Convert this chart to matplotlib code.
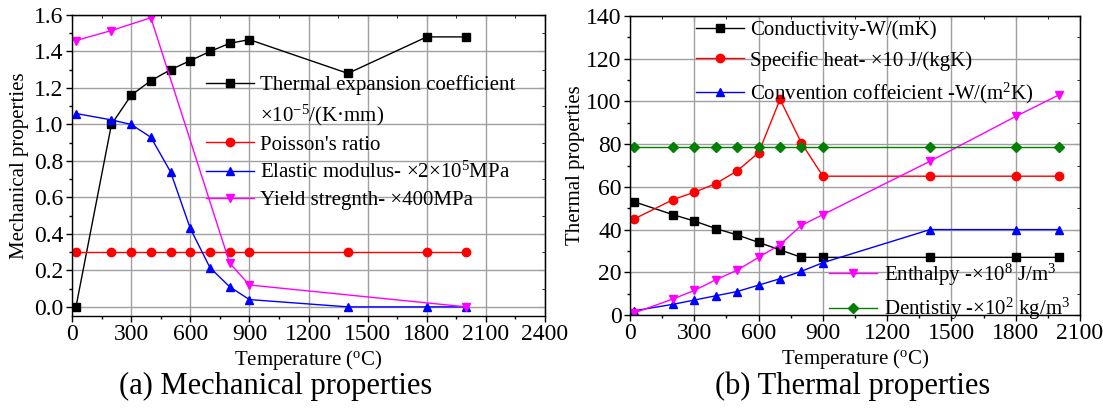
import matplotlib
matplotlib.use("Agg")
import matplotlib.pyplot as plt
from matplotlib.lines import Line2D
from matplotlib.ticker import MultipleLocator

plt.rcParams['font.family'] = ['Liberation Serif', 'DejaVu Serif']
plt.rcParams['mathtext.fontset'] = 'custom'
plt.rcParams['mathtext.rm'] = 'Liberation Serif'
plt.rcParams['mathtext.it'] = 'Liberation Serif:italic'
plt.rcParams['mathtext.bf'] = 'Liberation Serif:bold'

# temperatures (C)
temp = [20, 200, 300, 400, 500, 600, 700, 800, 900, 1400, 1800, 2000]

# (a) mechanical properties
thermal_exp = [0.0, 1.0, 1.16, 1.24, 1.30, 1.35, 1.40, 1.445, 1.465, 1.28, 1.48, 1.48]
poisson = [0.3] * 12
elastic = [1.06, 1.025, 1.0, 0.93, 0.74, 0.43, 0.215, 0.11, 0.04, 0.0, 0.0, 0.0]
yield_temp = [20, 200, 400, 800, 900, 2000]
yield_str = [1.46, 1.515, 1.585, 0.24, 0.12, 0.0]

# (b) thermal properties
conductivity = [53, 47, 44, 40.5, 37.5, 34, 30.5, 27, 27, 27, 27, 27]
specific_heat = [45, 54, 57.5, 61.5, 67.5, 76, 101, 80.5, 65, 65, 65, 65]
convection = [2, 5, 7, 9, 11, 14, 17, 20.5, 24.5, 40, 40, 40]
enthalpy = [1, 7.5, 11.5, 16.5, 21, 27, 33, 42, 47, 72, 93, 103]
density = [78.5] * 12

fig = plt.figure(figsize=(11.03, 4.09), dpi=100)
ax1 = fig.add_axes([0.0653, 0.2274, 0.4288, 0.7359])
ax2 = fig.add_axes([0.5712, 0.2298, 0.4080, 0.7310])

lw = 1.0
ms = 6
tick_fs = 17
lab_fs = 15
leg_fs = 15


def style(ax, xmax, xminor, ymajor, yminor):
    ax.set_xlim(0, xmax)
    ax.xaxis.set_major_locator(MultipleLocator(300))
    ax.xaxis.set_minor_locator(MultipleLocator(xminor))
    ax.yaxis.set_major_locator(MultipleLocator(ymajor))
    ax.yaxis.set_minor_locator(MultipleLocator(yminor))
    ax.grid(True, which='major', color='#a0a0a0', lw=1.0)
    ax.set_axisbelow(True)
    ax.tick_params(which='both', direction='out', labelsize=tick_fs, width=1,
                   colors='black', pad=2)
    ax.tick_params(which='major', length=4)
    ax.tick_params(which='minor', length=2.5)
    for s in ax.spines.values():
        s.set_linewidth(1.0)
    top = ax.secondary_xaxis('top')
    top.xaxis.set_major_locator(MultipleLocator(300))
    top.xaxis.set_minor_locator(MultipleLocator(xminor))
    top.tick_params(which='both', direction='in', labeltop=False)
    top.tick_params(which='major', length=4)
    top.tick_params(which='minor', length=2.5)
    right = ax.secondary_yaxis('right')
    right.yaxis.set_major_locator(MultipleLocator(ymajor))
    right.yaxis.set_minor_locator(MultipleLocator(yminor))
    right.tick_params(which='both', direction='in', labelright=False)
    right.tick_params(which='major', length=4)
    right.tick_params(which='minor', length=2.5)
    ax.set_xlabel('Temperature ($^{\\rm o}$C)', fontsize=lab_fs, labelpad=2)


# ---- (a)
l1, = ax1.plot(temp, thermal_exp, '-s', color='black', lw=lw, ms=5.5)
l2, = ax1.plot(temp, poisson, '-o', color='red', lw=lw, ms=ms)
l3, = ax1.plot(temp, elastic, '-^', color='blue', lw=lw, ms=ms)
l4, = ax1.plot(yield_temp, yield_str, '-v', color='magenta', lw=lw, ms=ms)
style(ax1, 2400, 150, 0.2, 0.1)
ax1.set_ylim(-0.05, 1.6)
ax1.yaxis.set_major_formatter(matplotlib.ticker.FormatStrFormatter('%.1f'))
ax1.set_ylabel('Mechanical properties', fontsize=lab_fs, labelpad=4)
blank = Line2D([], [], color='none')
ax1.legend([l1, blank, l2, l3, l4],
           ['Thermal expansion coefficient', '×10$^{-5}$/(K·mm)', "Poisson's ratio",
            'Elastic modulus- ×2×10$^5$MPa', 'Yield stregnth- ×400MPa'],
           loc='upper left', bbox_to_anchor=(0.283, 0.80), frameon=False,
           fontsize=leg_fs, handlelength=2.3, handletextpad=0.3, labelspacing=0.35,
           borderpad=0, borderaxespad=0)

# ---- (b)
c1, = ax2.plot(temp, conductivity, '-s', color='black', lw=lw, ms=5.5)
c2, = ax2.plot(temp, specific_heat, '-o', color='red', lw=lw, ms=ms)
c3, = ax2.plot(temp, convection, '-^', color='blue', lw=lw, ms=ms)
c4, = ax2.plot(temp, enthalpy, '-v', color='magenta', lw=lw, ms=ms)
c5, = ax2.plot(temp, density, '-D', color='green', lw=lw, ms=5)
style(ax2, 2100, 150, 20, 10)
ax2.set_ylim(0, 140)
ax2.set_ylabel('Thermal properties', fontsize=lab_fs, labelpad=1)
leg_top = ax2.legend([c1, c2, c3],
                     ['Conductivity-W/(mK)', 'Specific heat- ×10 J/(kgK)',
                      'Convention coffeicient -W/(m$^2$K)'],
                     loc='upper left', bbox_to_anchor=(0.147, 0.985), frameon=False,
                     fontsize=leg_fs, handlelength=2.3, handletextpad=0.3, labelspacing=0.5,
                     borderpad=0, borderaxespad=0)
ax2.add_artist(leg_top)
ax2.legend([c4, c5],
           ['Enthalpy -×10$^8$ J/m$^3$', 'Dentistiy -×10$^2$ kg/m$^3$'],
           loc='lower left', bbox_to_anchor=(0.443, -0.025), frameon=False,
           fontsize=leg_fs, handlelength=2.3, handletextpad=0.3, labelspacing=0.42,
           borderpad=0, borderaxespad=0)

fig.text(276 / 1103, 1 - 386 / 409, '(a) Mechanical properties', fontsize=22,
         ha='center', va='center')
fig.text(853 / 1103, 1 - 386 / 409, '(b) Thermal properties', fontsize=22,
         ha='center', va='center')

fig.savefig('out.png', dpi=100)
